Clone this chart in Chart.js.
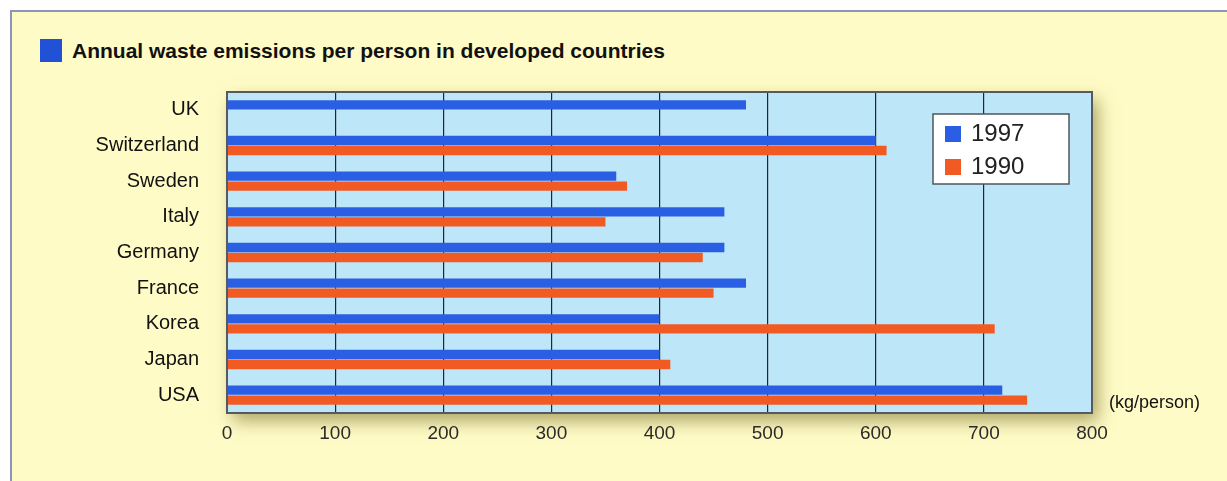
<!DOCTYPE html>
<html>
<head>
<meta charset="utf-8">
<script src="https://cdn.jsdelivr.net/npm/chart.js@4.4.1/dist/chart.umd.min.js"></script>
<style>
  html, body { margin: 0; padding: 0; background: #ffffff; overflow: hidden; }
  #panel {
    position: absolute; left: 10px; top: 10px; width: 1240px; height: 500px;
    background: #fffbc6; border: 2px solid #8e95bc; box-sizing: border-box;
  }
  #title {
    position: absolute; left: 40px; top: 39px; height: 23px;
    font: bold 21px "Liberation Sans", Arial, sans-serif; color: #111;
    line-height: 23px; white-space: nowrap;
  }
  #title span.box {
    display: inline-block; width: 22px; height: 23px; background: #2151d6;
    vertical-align: top; margin-right: 10px;
  }
  #myChart { position: absolute; left: 0; top: 0; }
</style>
</head>
<body>
<div id="panel"></div>
<div id="title"><span class="box"></span>Annual waste emissions per person in developed countries</div>
<canvas id="myChart" width="1227" height="481"></canvas>
<script>
// countries top to bottom, kg per person per year
var countries = ['UK', 'Switzerland', 'Sweden', 'Italy', 'Germany', 'France', 'Korea', 'Japan', 'USA'];
var years = ['1997', '1990'];
var waste1997 = [480, 600, 360, 460, 460, 480, 400, 400, 717];
var waste1990 = [null, 610, 370, 350, 440, 450, 710, 410, 740];
var xTicks = [0, 100, 200, 300, 400, 500, 600, 700, 800];
var unitLabel = '(kg/person)';

var blue = '#2b5fe3';
var orange = '#f25a24';

// light blue plot background with a soft shadow, frame and legend on top
var plotDecor = {
  id: 'plotDecor',
  beforeDraw: function(chart) {
    var a = chart.chartArea;
    var ctx = chart.ctx;
    ctx.save();
    ctx.shadowColor = 'rgba(120, 110, 40, 0.6)';
    ctx.shadowBlur = 16;
    ctx.shadowOffsetX = 6;
    ctx.shadowOffsetY = 8;
    ctx.fillStyle = '#bde6f8';
    ctx.fillRect(a.left, a.top, a.right - a.left, a.bottom - a.top);
    ctx.restore();
  },
  afterDraw: function(chart) {
    var a = chart.chartArea;
    var ctx = chart.ctx;
    ctx.save();
    ctx.strokeStyle = '#555a60';
    ctx.lineWidth = 2;
    ctx.strokeRect(a.left, a.top, a.right - a.left, a.bottom - a.top);

    // legend box
    var lx = a.left + 706, ly = a.top + 22;
    ctx.fillStyle = '#ffffff';
    ctx.fillRect(lx, ly, 136, 70);
    ctx.strokeStyle = '#50565c';
    ctx.lineWidth = 1.5;
    ctx.strokeRect(lx, ly, 136, 70);
    ctx.font = '24px "Liberation Sans", Arial, sans-serif';
    ctx.textBaseline = 'middle';
    chart.data.datasets.forEach(function(ds, i) {
      var cy = ly + 20 + i * 33;
      ctx.fillStyle = ds.backgroundColor;
      ctx.fillRect(lx + 12, cy - 8, 16, 16);
      ctx.fillStyle = '#222';
      ctx.fillText(ds.label, lx + 38, cy);
    });

    // unit label next to the axis end
    ctx.font = '18px "Liberation Sans", Arial, sans-serif';
    ctx.fillStyle = '#111';
    ctx.textAlign = 'left';
    ctx.fillText(unitLabel, a.right + 17, a.bottom - 10);
    ctx.restore();
  }
};

var ctx = document.getElementById('myChart');
var myChart = new Chart(ctx, {
  type: 'bar',
  data: {
    labels: countries,
    datasets: [
      { label: years[0], data: waste1997, backgroundColor: blue },
      { label: years[1], data: waste1990, backgroundColor: orange }
    ]
  },
  options: {
    indexAxis: 'y',
    responsive: false,
    animation: false,
    categoryPercentage: 0.56,
    barPercentage: 0.94,
    layout: { padding: { top: 92, right: 135, bottom: 0, left: 0 } },
    plugins: {
      legend: { display: false },
      tooltip: { enabled: false }
    },
    scales: {
      x: {
        min: xTicks[0],
        max: xTicks[xTicks.length - 1],
        afterBuildTicks: function(scale) {
          scale.ticks = xTicks.map(function(v) { return { value: v }; });
        },
        afterFit: function(scale) { scale.height = 68; },
        grid: { color: '#23262c', lineWidth: 1.2, drawTicks: false },
        border: { display: false },
        ticks: {
          padding: 9,
          color: '#2a2a2a',
          font: { family: '"Liberation Sans", Arial, sans-serif', size: 19 }
        }
      },
      y: {
        afterFit: function(scale) { scale.width = 227; },
        grid: { display: false },
        border: { display: false },
        ticks: {
          padding: 20,
          color: '#111',
          font: { family: '"Liberation Sans", Arial, sans-serif', size: 20 }
        }
      }
    }
  },
  plugins: [plotDecor]
});
</script>
</body>
</html>
